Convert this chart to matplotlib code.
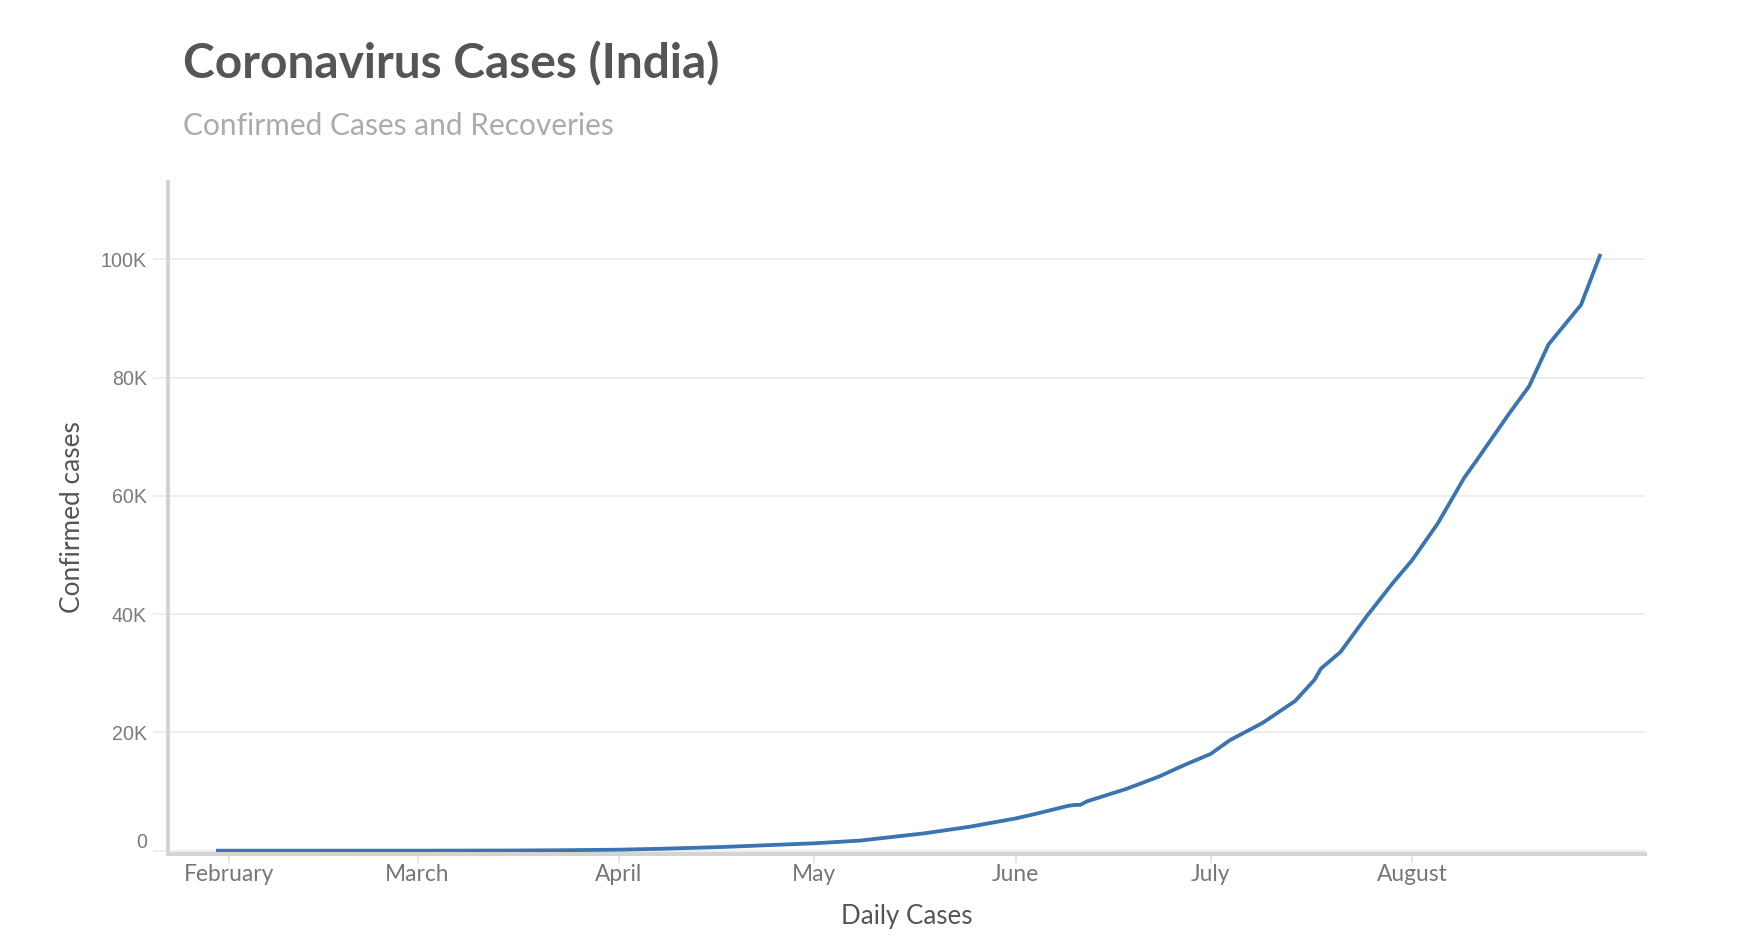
import matplotlib
matplotlib.use("Agg")
import matplotlib.pyplot as plt
import matplotlib.ticker as mticker
import pandas as pd

# ---------------- data ----------------
dates = [
    "2020-01-30", "2020-02-15", "2020-03-01", "2020-03-15", "2020-03-22",
    "2020-04-01", "2020-04-08", "2020-04-17", "2020-05-01", "2020-05-08",
    "2020-05-18", "2020-05-25", "2020-06-01", "2020-06-04", "2020-06-09",
    "2020-06-10", "2020-06-11", "2020-06-12", "2020-06-18", "2020-06-23",
    "2020-06-27", "2020-07-01", "2020-07-04", "2020-07-09", "2020-07-14",
    "2020-07-17", "2020-07-18", "2020-07-21", "2020-07-25", "2020-07-29",
    "2020-08-01", "2020-08-05", "2020-08-09", "2020-08-11", "2020-08-16",
    "2020-08-19", "2020-08-22", "2020-08-27", "2020-08-30",
]
confirmed = [
    1, 3, 5, 30, 70,
    170, 340, 630, 1250, 1700,
    2940, 4060, 5450, 6200, 7560,
    7730, 7760, 8350, 10430, 12500,
    14500, 16350, 18700, 21600, 25300,
    28900, 30800, 33600, 39600, 45200,
    49100, 55400, 63000, 66100, 74000,
    78500, 85600, 92300, 100900,
]

month_ticks = ["2020-02-01", "2020-03-01", "2020-04-01", "2020-05-01",
               "2020-06-01", "2020-07-01", "2020-08-01"]
month_labels = ["February", "March", "April", "May", "June", "July", "August"]
y_ticks = [0, 20000, 40000, 60000, 80000, 100000]
y_tick_labels = ["0", "20K", "40K", "60K", "80K", "100K"]

title_text = "Coronavirus Cases (India)"
subtitle_text = "Confirmed Cases and Recoveries"
x_title = "Daily Cases"
y_title = "Confirmed cases"

# ---------------- layout ----------------
W, H, DPI = 1740, 946, 100
fig = plt.figure(figsize=(W / DPI, H / DPI), dpi=DPI)
fig.patch.set_facecolor("white")


def fx(px):
    return px / W


def fy(py):
    return 1 - py / H


PT = 72.0 / DPI  # points per pixel

ax_left, ax_right, ax_top, ax_bottom = 167.7, 1645.0, 182.0, 853.7
ax = fig.add_axes([fx(ax_left), fy(ax_bottom),
                   fx(ax_right) - fx(ax_left), fy(ax_top) - fy(ax_bottom)])

renderer = fig.canvas.get_renderer()


def fit_size(text, family, weight, target_px, start=20):
    t = fig.text(0, 0, text, fontsize=start, family=family, weight=weight)
    w = t.get_window_extent(renderer).width
    t.remove()
    return start * target_px / w


LINE_COLOR = "#3a74b1"
AXIS_COLOR = "#d4d4d4"
GRID_COLOR = "#ededed"
TICK_LABEL_COLOR = "#7a7a7a"

x = pd.to_datetime(dates)
ax.plot(x, confirmed, color=LINE_COLOR, lw=3.8 * PT,
        solid_capstyle="butt", solid_joinstyle="round", zorder=3)

# y scale: 0 at y=850.7px, 100K at y=259.3px
px_per_unit = (850.7 - 259.3) / 100000
ax.set_ylim(-(ax_bottom - 850.7) / px_per_unit, (850.7 - ax_top) / px_per_unit)
# x scale: Feb 1 at x=229px, 6.5 px per day
feb1 = pd.Timestamp("2020-02-01")
ax.set_xlim(feb1 - pd.Timedelta(days=(229 - ax_left) / 6.5),
            feb1 + pd.Timedelta(days=(ax_right - 229) / 6.5))

for side in ("top", "right"):
    ax.spines[side].set_visible(False)
for side in ("left", "bottom"):
    ax.spines[side].set_color(AXIS_COLOR)
    ax.spines[side].set_linewidth(4 * PT)
    ax.spines[side].set_zorder(4)

ax.set_axisbelow(True)
ax.yaxis.grid(True, color=GRID_COLOR, lw=2 * PT)
ax.xaxis.grid(False)

# y ticks
ysize = fit_size("100K", "Liberation Sans", "normal", 46)
ax.set_yticks(y_ticks)
ax.yaxis.set_major_formatter(mticker.FuncFormatter(
    lambda v, p: "" if v == 0 else y_tick_labels[y_ticks.index(int(round(v)))]
    if int(round(v)) in y_ticks else ""))
ax.tick_params(axis="y", length=15 * PT, width=2 * PT, color=GRID_COLOR,
               pad=5.7 * PT, labelcolor=TICK_LABEL_COLOR, labelsize=ysize)
for lab in ax.get_yticklabels():
    lab.set_family("Liberation Sans")
# the "0" label sits slightly above its grid line in the reference
ax.annotate(y_tick_labels[0], xy=(0, y_ticks[0]),
            xycoords=("axes fraction", "data"),
            xytext=(-(15 + 5.7) * PT, 8.7 * PT), textcoords="offset points",
            ha="right", va="center", fontsize=ysize, family="Liberation Sans",
            color=TICK_LABEL_COLOR, annotation_clip=False)

# x ticks
xsize = fit_size("February", "Lato", "normal", 90)
ax.set_xticks(pd.to_datetime(month_ticks), month_labels,
              family="Lato", fontsize=xsize, color="#767676")
ax.tick_params(axis="x", length=9 * PT, width=2 * PT, color="#e4e4e4",
               pad=1.0 * PT)

# axis titles
xl_size = fit_size(x_title, "Lato", "normal", 131)
fig.text(fx(907), fy(916.6), x_title, ha="center", va="center",
         fontsize=xl_size, family="Lato", color="#555555")
yl_size = fit_size(y_title, "Lato", "normal", 192)
fig.text(fx(73), fy(517), y_title, ha="center", va="center", rotation=90,
         fontsize=yl_size, family="Lato", color="#555555")

# title & subtitle
t_size = fit_size(title_text, "Lato", "bold", 537)
fig.text(fx(183), fy(78.8), title_text, ha="left", va="baseline",
         fontsize=t_size, family="Lato", weight="bold", color="#555555")
s_size = fit_size(subtitle_text, "Lato", "normal", 432)
fig.text(fx(183), fy(135.4), subtitle_text, ha="left", va="baseline",
         fontsize=s_size, family="Lato", color="#ababab")

fig.savefig("out.png", dpi=DPI, facecolor="white")
